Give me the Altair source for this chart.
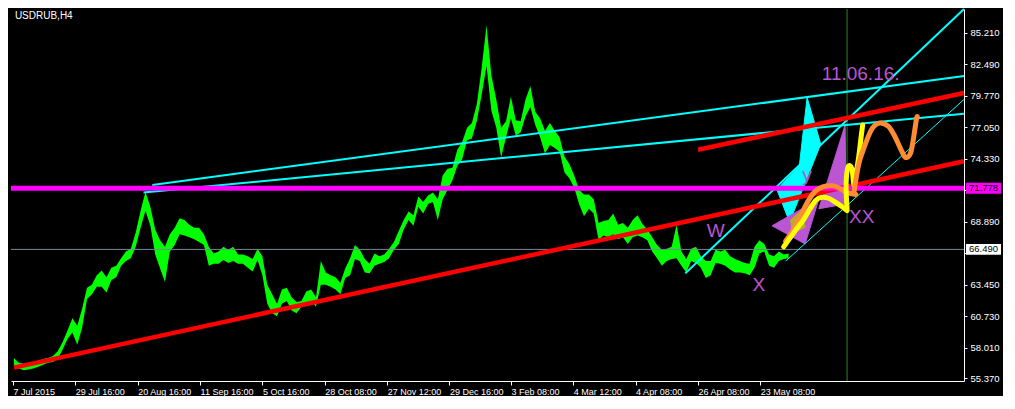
import altair as alt
import pandas as pd

TITLE = "USDRUB,H4"

# ---- price bars (bar slot index on the time axis, high / low prices) ----
BAR_X = list(range(0, 800, 5))
BAR_HIGH = [57.10, 56.69, 56.61, 56.69, 56.77, 56.86, 57.02, 57.10, 57.27, 57.68,
            58.50, 59.49, 60.55, 59.90, 61.38, 63.18, 63.43, 64.25, 64.66, 64.09,
            64.91, 65.07, 65.73, 66.31, 66.55, 67.95, 69.84, 71.48, 70.17, 68.20,
            67.29, 66.72, 67.79, 68.36, 69.18, 69.02, 68.61, 68.36, 68.36, 67.79,
            66.72, 66.14, 66.31, 66.72, 66.47, 66.72, 66.06, 66.06, 65.90, 65.65,
            66.55, 65.90, 63.43, 62.61, 61.79, 63.02, 63.18, 62.36, 61.95, 62.03,
            62.86, 63.02, 62.36, 65.48, 64.50, 64.25, 64.09, 63.60, 64.83, 65.73,
            66.88, 66.47, 65.65, 65.24, 66.14, 65.90, 66.06, 66.55, 67.13, 68.11,
            69.02, 69.76, 69.43, 71.07, 70.58, 71.15, 71.40, 70.83, 72.88, 73.46,
            73.54, 75.10, 75.76, 76.99, 77.40, 79.04, 82.17, 85.86, 81.51, 79.45,
            76.99, 77.56, 79.70, 77.65, 77.56, 79.45, 80.60, 78.39, 77.81, 76.74,
            77.40, 76.74, 76.17, 74.52, 73.87, 72.88, 71.65, 71.24, 71.24, 70.83,
            68.77, 68.94, 69.02, 69.59, 68.61, 68.77, 68.36, 69.02, 69.43, 68.69,
            68.20, 67.54, 66.88, 66.47, 66.55, 66.72, 68.61, 66.31, 65.65, 66.55,
            66.72, 65.90, 65.48, 65.48, 66.47, 66.31, 66.47, 65.90, 65.65, 65.48,
            65.32, 65.24, 66.72, 67.29, 66.96, 66.06, 65.90, 66.31, 66.06, 66.14]
BAR_LOW = [56.45, 56.20, 56.04, 56.12, 56.20, 56.36, 56.53, 56.69, 56.77, 57.02,
           57.84, 58.75, 59.32, 58.25, 59.73, 62.20, 62.61, 63.27, 63.27, 62.77,
           63.84, 64.09, 65.07, 65.48, 65.73, 66.72, 68.36, 69.84, 68.53, 66.06,
           64.83, 63.68, 66.31, 66.88, 67.79, 67.70, 67.54, 67.37, 67.13, 66.88,
           65.07, 65.24, 65.24, 65.57, 65.32, 65.48, 65.24, 65.24, 64.91, 64.58,
           65.57, 64.25, 61.79, 60.97, 60.72, 61.79, 62.03, 61.21, 60.97, 61.54,
           61.79, 62.03, 61.54, 63.43, 63.43, 63.27, 63.02, 62.61, 64.01, 64.25,
           65.65, 65.48, 64.50, 64.42, 65.07, 65.24, 65.40, 65.73, 66.47, 66.96,
           68.20, 69.02, 68.53, 70.17, 69.59, 70.42, 70.58, 69.02, 70.83, 71.65,
           72.47, 73.70, 74.28, 75.92, 76.08, 77.56, 79.86, 82.33, 78.47, 76.99,
           74.44, 76.17, 77.81, 76.33, 76.58, 77.97, 78.80, 77.24, 76.17, 74.77,
           75.51, 75.26, 74.93, 73.13, 72.63, 71.81, 70.42, 69.35, 70.00, 69.59,
           67.29, 67.70, 67.54, 67.79, 67.37, 67.54, 66.96, 67.54, 67.70, 67.54,
           67.29, 66.31, 65.73, 65.07, 65.48, 65.65, 65.73, 65.07, 64.50, 65.48,
           65.32, 64.91, 64.01, 64.25, 65.32, 65.24, 65.07, 64.75, 64.50, 64.50,
           64.42, 64.25, 64.91, 66.14, 66.31, 65.07, 64.91, 65.48, 65.65, 65.73]

# ---- axes ----
X_TICK_POS = [-1, 63, 127, 191, 255, 319, 383, 447, 510, 574, 638, 702, 766]
X_TICK_LABELS = ["7 Jul 2015", "29 Jul 16:00", "20 Aug 16:00", "11 Sep 16:00",
                 "5 Oct 16:00", "28 Oct 08:00", "27 Nov 12:00", "29 Dec 16:00",
                 "3 Feb 08:00", "4 Mar 12:00", "4 Apr 08:00", "26 Apr 08:00",
                 "23 May 08:00"]
Y_TICKS = [55.37, 58.01, 60.73, 63.45, 66.17, 68.89, 71.61, 74.33, 77.05,
           79.77, 82.49, 85.21]
Y_TICKS_COVERED = [66.17, 71.61]   # labels hidden under the price boxes
X_DOMAIN = [-3, 975]
Y_DOMAIN = [55.12, 87.26]

# ---- levels ----
LEVEL_MAGENTA = 71.778
LEVEL_BID = 66.49
VLINE_X = 855

# ---- trend lines: x1, price1, x2, price2 ----
RED_LONG = [0, 56.28, 975, 74.11]
RED_SHORT = [702, 75.10, 975, 80.00]
CYAN_UPPER = [142, 72.06, 975, 81.47]
CYAN_LOWER = [133, 71.40, 975, 78.22]
CYAN_STEEP = [689, 64.42, 975, 87.26]
CYAN_THIN = [792, 65.48, 975, 79.45]

# ---- filled shapes ----
CYAN_POLY_X = [814, 828, 796, 783, 806, 814]
CYAN_POLY_P = [79.62, 75.59, 68.85, 71.65, 73.70, 79.62]
ORCHID1_X = [853, 854, 826, 853]
ORCHID1_P = [77.24, 70.42, 70.00, 77.24]
ORCHID2_X = [778, 812, 826, 778]
ORCHID2_P = [68.53, 66.96, 70.83, 68.53]
OLIVE_X = [797, 808, 812, 799, 797]
OLIVE_P = [69.02, 69.84, 68.40, 67.90, 69.02]

# ---- hand drawn curves ----
YELLOW1_X = [790, 797, 804, 810, 817, 823, 829, 836, 843, 850, 855]
YELLOW1_P = [66.72, 67.54, 68.36, 69.02, 70.00, 70.74, 70.99, 70.91, 70.58, 70.17, 69.84]
YELLOW2_X = [855, 854, 856, 860, 862, 864, 867, 869, 871]
YELLOW2_P = [70.00, 72.06, 73.62, 73.46, 72.06, 72.88, 74.52, 75.92, 77.24]
ORANGE1_X = [792, 800, 808, 815, 822, 830, 840, 848, 855, 864]
ORANGE1_P = [67.21, 68.20, 69.51, 70.66, 71.48, 71.89, 71.98, 71.73, 71.40, 71.24]
ORANGE2_X = [862, 867, 872, 880, 888, 897, 903, 910, 915, 920, 923, 926, 927]
ORANGE2_P = [71.40, 73.87, 75.18, 76.83, 77.40, 77.15, 76.41, 75.18, 74.44, 74.77,
             76.00, 77.65, 77.97]

# ---- annotations ----
NOTE_TEXT = ["11.06.16.", "y", "W", "X", "XX"]
NOTE_X = [829, 809, 711, 758, 857]
NOTE_P = [81.10, 72.39, 67.54, 62.86, 68.77]

# ---- styles ----
BG = "black"
LIME = "#00FF00"
RED = "#FF0000"
CYAN = "#00FFFF"
MAGENTA = "#FF00FF"
ORCHID = "#BA55D3"
OLIVE = "#BAAA2C"
YELLOW = "#FFFF00"
ORANGE = "#FF8C32"
BIDGRAY = "#778899"
VGREEN = "#1E8C1E"
FONT = "Liberation Sans"

xs = alt.Scale(domain=X_DOMAIN, nice=False, zero=False)
ys = alt.Scale(domain=Y_DOMAIN, nice=False, zero=False)

x_label_expr = ("[" + ",".join("'%s'" % s for s in X_TICK_LABELS) + "][indexof(["
                + ",".join(str(v) for v in X_TICK_POS) + "], datum.value)]")
y_label_expr = ("indexof([" + ",".join(str(v) for v in Y_TICKS_COVERED)
                + "], datum.value) >= 0 ? '' : format(datum.value, '.3f')")

x_axis = alt.Axis(values=X_TICK_POS, labelExpr=x_label_expr, labelAlign="left",
                  labelBaseline="top", labelColor="white", labelFont=FONT,
                  labelFontSize=9, labelPadding=2, tickColor="white", tickSize=4,
                  domainColor="white", labelOverlap=False, labelFlush=False,
                  labelBound=False, grid=False, title=None)
y_axis = alt.Axis(orient="right", values=Y_TICKS, labelExpr=y_label_expr,
                  labelColor="white", labelFont=FONT, labelFontSize=9.5,
                  labelPadding=3, tickColor="white", tickSize=3, domainColor="white",
                  labelOverlap=False, labelFlush=False, labelBound=False,
                  grid=False, title=None)


def X(field):
    return alt.X(field, scale=xs, axis=x_axis, title=None)


def Y(field):
    return alt.Y(field, scale=ys, axis=y_axis, title=None)


price_df = pd.DataFrame({"t": BAR_X, "high": BAR_HIGH, "low": BAR_LOW})
price = alt.Chart(price_df).mark_area(color=LIME, interpolate="linear").encode(
    x=X("t:Q"), y=Y("high:Q"), y2="low:Q")


def seg(vals, color, width):
    df = pd.DataFrame({"x": [vals[0]], "p": [vals[1]], "x2": [vals[2]], "p2": [vals[3]]})
    return alt.Chart(df).mark_rule(color=color, strokeWidth=width).encode(
        x=X("x:Q"), y=Y("p:Q"), x2="x2:Q", y2="p2:Q")


def hline(level, color, width):
    return alt.Chart(pd.DataFrame({"p": [level]})).mark_rule(
        color=color, strokeWidth=width).encode(y=Y("p:Q"))


def vline(xv, color, width):
    return alt.Chart(pd.DataFrame({"x": [xv]})).mark_rule(
        color=color, strokeWidth=width).encode(x=X("x:Q"))


def poly(xv, pv, color):
    df = pd.DataFrame({"x": xv, "p": pv, "i": list(range(len(xv)))})
    return alt.Chart(df).mark_line(fill=color, stroke=color, strokeWidth=1,
                                   interpolate="linear").encode(
        x=X("x:Q"), y=Y("p:Q"), order="i:Q")


def curve(xv, pv, color, width):
    df = pd.DataFrame({"x": xv, "p": pv, "i": list(range(len(xv)))})
    return alt.Chart(df).mark_line(color=color, strokeWidth=width, strokeCap="round",
                                   strokeJoin="round", interpolate="cardinal").encode(
        x=X("x:Q"), y=Y("p:Q"), order="i:Q")


notes_df = pd.DataFrame({"x": NOTE_X, "p": NOTE_P, "t": NOTE_TEXT})
notes = alt.Chart(notes_df).mark_text(align="left", baseline="alphabetic", font=FONT,
                                      fontSize=19, color=ORCHID).encode(
    x=X("x:Q"), y=Y("p:Q"), text="t:N")

title = alt.Chart(pd.DataFrame({"x": [1], "p": [86.40], "t": [TITLE]})).mark_text(
    align="left", baseline="alphabetic", font=FONT, fontSize=10, color="white").encode(
    x=X("x:Q"), y=Y("p:Q"), text="t:N")


def price_box(level, fill):
    half = 0.47
    df = pd.DataFrame({"x": [977], "x2": [1013], "p": [level + half], "p2": [level - half],
                       "xm": [995], "pm": [level], "t": ["%.3f" % level]})
    rect = alt.Chart(df).mark_rect(color=fill).encode(
        x=X("x:Q"), x2="x2:Q", y=Y("p:Q"), y2="p2:Q")
    txt = alt.Chart(df).mark_text(font=FONT, fontSize=9.5, color="black",
                                  align="center", baseline="middle").encode(
        x=X("xm:Q"), y=Y("pm:Q"), text="t:N")
    return rect + txt


chart = alt.layer(
    price,
    hline(LEVEL_BID, BIDGRAY, 1),
    vline(VLINE_X, VGREEN, 1),
    poly(CYAN_POLY_X, CYAN_POLY_P, CYAN),
    poly(ORCHID1_X, ORCHID1_P, ORCHID),
    poly(ORCHID2_X, ORCHID2_P, ORCHID),
    poly(OLIVE_X, OLIVE_P, OLIVE),
    seg(CYAN_UPPER, CYAN, 2),
    seg(CYAN_LOWER, CYAN, 2),
    seg(CYAN_STEEP, CYAN, 2),
    seg(CYAN_THIN, CYAN, 1),
    seg(RED_LONG, RED, 4.5),
    seg(RED_SHORT, RED, 4.5),
    hline(LEVEL_MAGENTA, MAGENTA, 5),
    curve(ORANGE1_X, ORANGE1_P, ORANGE, 5),
    curve(YELLOW1_X, YELLOW1_P, YELLOW, 5),
    curve(YELLOW2_X, YELLOW2_P, YELLOW, 5),
    curve(ORANGE2_X, ORANGE2_P, ORANGE, 5),
    notes,
    title,
    price_box(LEVEL_MAGENTA, MAGENTA),
    price_box(LEVEL_BID, "white"),
).properties(
    width=995, height=388,
    autosize=alt.AutoSizeParams(type="fit", contains="padding"),
    padding=0, background=BG,
).configure_view(stroke=None)

chart.save("out.html", embed_options={"renderer": "svg", "actions": False})
